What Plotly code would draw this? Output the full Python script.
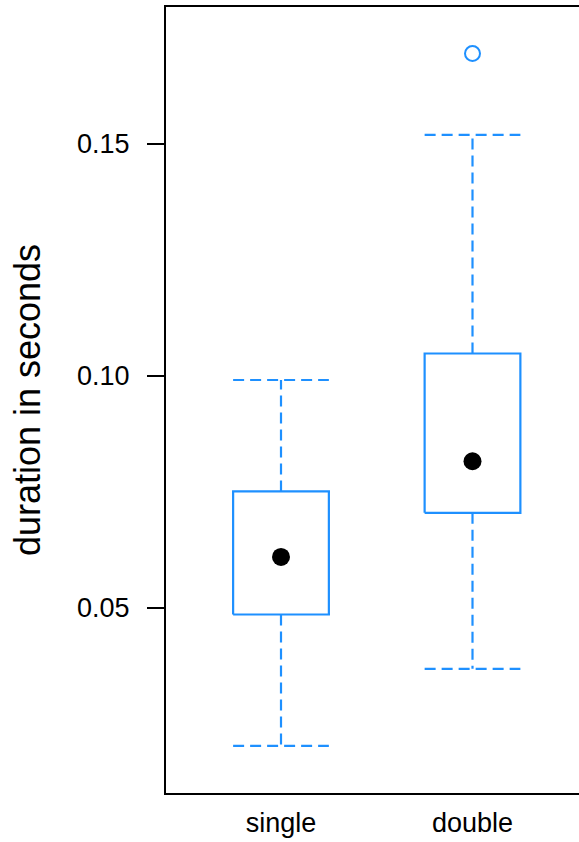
import plotly.graph_objects as go

# ---- data ----
groups = ["single", "double"]
q1 = [0.0486, 0.0705]
median = [0.0610, 0.0816]
q3 = [0.0751, 0.1048]
whisker_low = [0.0203, 0.0369]
whisker_high = [0.0991, 0.1519]
outlier_group = ["double"]
outlier_value = [0.1694]

y_ticks = [0.05, 0.10, 0.15]
y_tick_labels = ["0.05", "0.10", "0.15"]

BLUE = "#1E90FF"
HALF = 0.25
positions = [i + 1 for i in range(len(groups))]

fig = go.Figure()

# boxes
bx, by = [], []
for p, a, b in zip(positions, q1, q3):
    bx += [p - HALF, p + HALF, p + HALF, p - HALF, p - HALF, None]
    by += [a, a, b, b, a, None]
fig.add_trace(go.Scatter(x=bx, y=by, mode="lines",
                         line=dict(color=BLUE, width=2.2), hoverinfo="skip",
                         showlegend=False))

# dashed whiskers and caps
wx, wy = [], []
for p, a, b, lo, hi in zip(positions, q1, q3, whisker_low, whisker_high):
    wx += [p, p, None, p, p, None]
    wy += [b, hi, None, a, lo, None]
    wx += [p - HALF, p + HALF, None, p - HALF, p + HALF, None]
    wy += [hi, hi, None, lo, lo, None]
fig.add_trace(go.Scatter(x=wx, y=wy, mode="lines",
                         line=dict(color=BLUE, width=2.2, dash="11px,6px"),
                         hoverinfo="skip", showlegend=False))

# medians as dots
fig.add_trace(go.Scatter(x=positions, y=median, mode="markers",
                         marker=dict(color="black", size=18),
                         showlegend=False))

# outliers
ox = [positions[groups.index(g)] for g in outlier_group]
fig.add_trace(go.Scatter(x=ox, y=outlier_value, mode="markers",
                         marker=dict(symbol="circle-open", color=BLUE, size=15,
                                     line=dict(width=2)),
                         showlegend=False))

# frame (right edge lies beyond the visible page, as in the reference)
fig.add_shape(type="rect", xref="paper", yref="paper", x0=0, x1=1.05, y0=0, y1=1,
              line=dict(color="black", width=2), layer="above")

fig.update_layout(
    width=579, height=842,
    margin=dict(l=165, r=0, t=6, b=48),
    paper_bgcolor="white", plot_bgcolor="white",
    font=dict(family="Liberation Sans, Arial, sans-serif", color="black"),
    xaxis=dict(range=[0.3943, 2.5561], tickvals=positions, ticktext=groups,
               showgrid=False, zeroline=False, showline=False, ticks="",
               ticklabelstandoff=10, tickfont=dict(size=27)),
    yaxis=dict(range=[0.00995, 0.17963], tickvals=y_ticks, ticktext=y_tick_labels,
               showgrid=False, zeroline=False, showline=False,
               ticks="outside", ticklen=17, tickwidth=2, tickcolor="black",
               ticklabelstandoff=12, tickfont=dict(size=27),
               title=dict(text="duration in seconds", font=dict(size=36), standoff=25)),
)

fig.write_html("out.html", config={"displayModeBar": False},
               post_script="document.body.style.margin='0';document.body.style.overflow='hidden';")
